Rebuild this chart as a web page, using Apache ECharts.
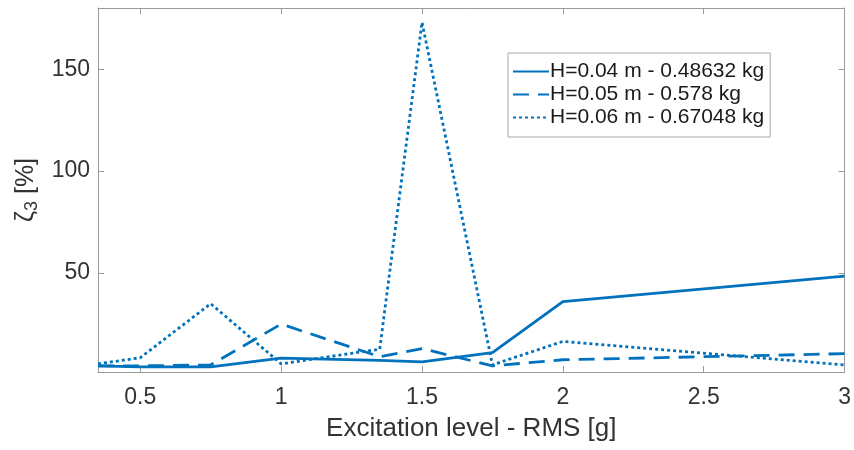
<!DOCTYPE html>
<html>
<head>
<meta charset="utf-8">
<script src="https://cdn.jsdelivr.net/npm/echarts@6/dist/echarts.min.js"></script>
<style>
  html, body { margin: 0; padding: 0; background: #ffffff; }
  #chart { width: 854px; height: 450px; }
</style>
</head>
<body>
<div id="chart"></div>
<script>
// Excitation levels (RMS, g)
const excitation = [0.35, 0.5, 0.75, 1, 1.35, 1.5, 1.75, 2, 3];

// Damping ratio of mode 3 [%] for each cavity height / mass
const zetaH004 = [4.5, 4.0, 4.0, 8.3, 7.2, 6.5, 11.0, 36.0, 48.5];
const zetaH005 = [4.5, 4.5, 5.0, 25.0, 9.0, 13.0, 4.5, 7.5, 10.5];
const zetaH006 = [5.5, 8.5, 35.0, 5.5, 12.7, 173.0, 5.0, 16.5, 5.0];

const seriesNames = [
  'H=0.04 m - 0.48632 kg',
  'H=0.05 m - 0.578 kg',
  'H=0.06 m - 0.67048 kg'
];

const xTicks = [0.5, 1, 1.5, 2, 2.5, 3];
const yTicks = [50, 100, 150];

const FONT = '"Liberation Sans", Arial, Helvetica, sans-serif';
const BLUE = '#0072BD';
const AXIS_GRAY = '#9a9a9a';
const TEXT_GRAY = '#333333';
const LINE_W = 2.8;

function pairs(xs, ys) {
  return xs.map((x, i) => [x, ys[i]]);
}

function valueAxis(extra) {
  return Object.assign({
    type: 'value',
    splitLine: { show: false },
    axisLine: { show: true, onZero: false, lineStyle: { color: AXIS_GRAY, width: 1 } },
    axisTick: { show: true, inside: true, length: 6, lineStyle: { color: AXIS_GRAY, width: 1 } },
    axisLabel: { show: false }
  }, extra);
}

const xMin = 0.35, xMax = 3;
const yMin = 1.5, yMax = 180;

const chart = echarts.init(document.getElementById('chart'), null, { renderer: 'canvas' });

chart.setOption({
  backgroundColor: '#ffffff',
  animation: false,
  grid: { left: 98, right: 9, top: 8, bottom: 78, containLabel: false },
  legend: {
    orient: 'vertical',
    left: 508,
    top: 53,
    padding: [8, 6, 9, 4],
    itemGap: 2,
    itemWidth: 36,
    itemHeight: 21,
    backgroundColor: '#ffffff',
    borderColor: '#a8a8a8',
    borderWidth: 1,
    itemStyle: { opacity: 0 },
    textStyle: { fontFamily: FONT, fontSize: 21, color: '#1a1a1a', lineHeight: 21, padding: [0, 0, 0, -4] },
    data: seriesNames
  },
  xAxis: [
    valueAxis({
      position: 'bottom',
      min: xMin, max: xMax,
      name: 'Excitation level - RMS [g]',
      nameLocation: 'middle',
      nameGap: 44,
      nameTextStyle: { fontFamily: FONT, fontSize: 26, color: TEXT_GRAY, verticalAlign: 'top' },
      axisTick: { show: true, inside: true, length: 6, customValues: xTicks, lineStyle: { color: AXIS_GRAY } },
      axisLabel: {
        show: true, customValues: xTicks, margin: 14,
        fontFamily: FONT, fontSize: 23, color: TEXT_GRAY,
        formatter: v => String(v)
      }
    }),
    valueAxis({
      position: 'top',
      min: xMin, max: xMax,
      axisTick: { show: true, inside: true, length: 6, customValues: xTicks, lineStyle: { color: AXIS_GRAY } }
    })
  ],
  yAxis: [
    valueAxis({
      position: 'left',
      min: yMin, max: yMax,
      name: '{z|ζ}{s|3}{z| [%]}',
      nameLocation: 'middle',
      nameGap: 52,
      nameRotate: 90,
      nameTextStyle: {
        rich: {
          z: { fontFamily: FONT, fontSize: 25, color: TEXT_GRAY },
          s: { fontFamily: FONT, fontSize: 18, color: TEXT_GRAY, verticalAlign: 'bottom', padding: [12, 0, 0, 0] }
        }
      },
      axisTick: { show: true, inside: true, length: 6, customValues: yTicks, lineStyle: { color: AXIS_GRAY } },
      axisLabel: {
        show: true, customValues: yTicks, margin: 8,
        fontFamily: FONT, fontSize: 23, color: TEXT_GRAY
      }
    }),
    valueAxis({
      position: 'right',
      min: yMin, max: yMax,
      axisTick: { show: true, inside: true, length: 6, customValues: yTicks, lineStyle: { color: AXIS_GRAY } }
    })
  ],
  series: [
    {
      name: seriesNames[0], type: 'line', xAxisIndex: 0, yAxisIndex: 0,
      symbol: 'none', data: pairs(excitation, zetaH004),
      lineStyle: { color: BLUE, width: LINE_W, type: 'solid' },
      itemStyle: { color: BLUE }
    },
    {
      name: seriesNames[1], type: 'line', xAxisIndex: 0, yAxisIndex: 0,
      symbol: 'none', data: pairs(excitation, zetaH005),
      lineStyle: { color: BLUE, width: LINE_W, type: [16, 9] },
      itemStyle: { color: BLUE }
    },
    {
      name: seriesNames[2], type: 'line', xAxisIndex: 0, yAxisIndex: 0,
      symbol: 'none', data: pairs(excitation, zetaH006),
      lineStyle: { color: BLUE, width: LINE_W, type: [3, 3] },
      itemStyle: { color: BLUE }
    }
  ]
});
</script>
</body>
</html>
